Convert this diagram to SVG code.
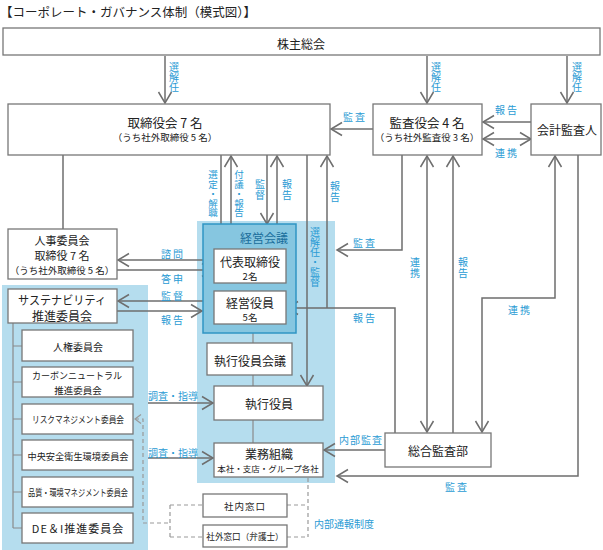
<svg xmlns="http://www.w3.org/2000/svg" width="603" height="550" viewBox="0 0 603 550">
<defs>
<style>
text{font-family:"Noto Sans CJK JP","Noto Sans CJK SC",sans-serif;dominant-baseline:central}
.n{fill:#222;text-anchor:middle;font-size:12px}
.s{font-size:9.5px}
.l{fill:#2a9bd4;font-size:10px;text-anchor:middle;letter-spacing:2px}
.v{fill:#2a9bd4;font-size:10px;writing-mode:vertical-rl;text-orientation:upright;text-anchor:start}
.b{fill:#fff;stroke:#777;stroke-width:1.3}
.c{fill:none;stroke:#6e6e6e;stroke-width:1.5}
.t{fill:none;stroke:#8a8a8a;stroke-width:1.2}
.d{fill:none;stroke:#999;stroke-width:1.2;stroke-dasharray:4 3}
.a{marker-end:url(#ah)}
.aa{marker-end:url(#ah);marker-start:url(#ah)}
</style>
<marker id="ah" viewBox="-12 -8 14 16" refX="0" refY="0" markerWidth="14" markerHeight="16" markerUnits="userSpaceOnUse" orient="auto-start-reverse">
<path d="M-11,-6.5 L0,0 L-11,6.5" fill="none" stroke="#6e6e6e" stroke-width="1.5"/>
</marker>
<marker id="ahs" viewBox="-8 -6 10 12" refX="0" refY="0" markerWidth="10" markerHeight="12" markerUnits="userSpaceOnUse" orient="auto-start-reverse">
<path d="M-6,-4.5 L0,0 L-6,4.5" fill="none" stroke="#999" stroke-width="1.2"/>
</marker>
</defs>
<rect width="603" height="550" fill="#fff"/>
<text x="0" y="11" style="font-size:12.5px;fill:#222">【コーポレート・ガバナンス体制（模式図）】</text>

<rect id="region-exec" x="197" y="221" width="138" height="262" fill="#b5ddee"/>
<rect id="region-sustain" x="2" y="285" width="146" height="265" fill="#b5ddee"/>

<g id="connectors">
<path class="c a" d="M165,56V103"/>
<path class="c a" d="M427,56V103"/>
<path class="c a" d="M567,56V103"/>
<path class="c a" d="M373,129H331"/>
<path class="c a" d="M531,122H483"/>
<path class="c aa" d="M483,139H531"/>
<path class="c" d="M63,155V229"/>
<path class="c a" d="M221,155V249"/>
<path class="c a" d="M231,249V156"/>
<path class="c a" d="M267,155V224"/>
<path class="c a" d="M277,224V156"/>
<path class="c a" d="M307,155V386"/>
<path class="c a" d="M395,433V308H287"/>
<path class="c a" d="M327,308V156"/>
<path class="c a" d="M402,155V250H337"/>
<path class="c aa" d="M427,156V432"/>
<path class="c a" d="M453,433V156"/>
<path class="c aa" d="M555,156V298H482V432"/>
<path class="c a" d="M578,155V476H337"/>
<path class="c a" d="M385,450H324"/>
<path class="c a" d="M214,260H118"/>
<path class="c a" d="M117,270H213"/>
<path class="c a" d="M203,301H118"/>
<path class="c a" d="M117,311H202"/>
<path class="c a" d="M148,403H213"/>
<path class="c a" d="M148,458H213"/>
<path class="t" d="M13,323V528M13,346H22M13,382H22M13,419H22M13,455H22M13,492H22M13,528H22"/>
<path class="t" stroke="#999" d="M253,283V443"/>
<path class="d" style="marker-start:url(#ahs)" d="M135,419H143V523H170"/>
<path class="d" d="M170,505V537M170,505H203M170,537H203M287,505H308M287,537H308M308,478V537"/>
<text class="v" x="174" y="62">選解任</text>
<text class="v" x="436" y="62">選解任</text>
<text class="v" x="577" y="62">選解任</text>
<text class="l" x="355" y="116">監査</text>
<text class="l" x="507" y="109">報告</text>
<text class="l" x="507" y="152">連携</text>
<text class="v" x="213" y="170" style="font-size:9.5px">選定・解職</text>
<text class="v" x="239" y="170" style="font-size:9.5px">付議・報告</text>
<text class="v" x="260" y="179" style="letter-spacing:1px">監督</text>
<text class="v" x="287" y="179" style="letter-spacing:1px">報告</text>
<text class="v" x="335" y="181" style="letter-spacing:1px">報告</text>
<text class="v" x="315" y="227">選解任・監督</text>
<text class="l" x="365" y="242">監査</text>
<text class="l" x="365" y="317">報告</text>
<text class="v" x="415" y="257" style="letter-spacing:1px">連携</text>
<text class="v" x="463" y="257" style="letter-spacing:1px">報告</text>
<text class="l" x="520" y="309">連携</text>
<text class="l" x="457" y="486">監査</text>
<text class="l" x="361" y="439" style="letter-spacing:1px">内部監査</text>
<text class="l" x="173" y="253">諮問</text>
<text class="l" x="173" y="278">答申</text>
<text class="l" x="173" y="295">監督</text>
<text class="l" x="173" y="319">報告</text>
<text class="l" x="173" y="395" style="letter-spacing:0">調査・指導</text>
<text class="l" x="173" y="452" style="letter-spacing:0">調査・指導</text>
<text class="l" x="344" y="523" style="letter-spacing:0">内部通報制度</text>
</g>

<g id="shareholders"><rect class="b" x="3" y="28" width="597" height="27"/><text class="n" x="301" y="43">株主総会</text></g>
<g id="board"><rect class="b" x="8" y="104" width="322" height="51"/><text class="n" x="165" y="122" style="font-size:12.5px">取締役会 7 名</text><text class="n s" x="165" y="137">（うち社外取締役 5 名）</text></g>
<g id="auditors"><rect class="b" x="373" y="104" width="109" height="51"/><text class="n" x="427" y="122" style="font-size:12.5px">監査役会 4 名</text><text class="n s" x="427" y="137">（うち社外監査役 3 名）</text></g>
<g id="accounting-auditor"><rect class="b" x="531" y="104" width="70" height="51"/><text class="n" x="567" y="129">会計監査人</text></g>
<g id="hr-committee"><rect class="b" x="8" y="229" width="109" height="50"/><text class="n" x="62" y="240" style="font-size:11px">人事委員会</text><text class="n" x="62" y="255" style="font-size:11px">取締役 7 名</text><text class="n s" x="62" y="270">（うち社外取締役 5 名）</text></g>
<g id="sustainability"><rect class="b" x="8" y="289" width="109" height="34"/><text class="n" x="62" y="299" textLength="88" lengthAdjust="spacingAndGlyphs">サステナビリティ</text><text class="n" x="62" y="315">推進委員会</text></g>
<g id="human-rights"><rect class="b" x="22" y="330" width="111" height="31"/><text class="n" x="78" y="346" style="font-size:10px">人権委員会</text></g>
<g id="carbon"><rect class="b" x="22" y="367" width="111" height="30"/><text class="n" x="77" y="375" style="font-size:9.5px" textLength="90" lengthAdjust="spacingAndGlyphs">カーボンニュートラル</text><text class="n" x="78" y="390" style="font-size:9.5px">推進委員会</text></g>
<g id="risk"><rect class="b" x="22" y="404" width="111" height="30"/><text class="n" x="78" y="419" style="font-size:9.5px" textLength="92" lengthAdjust="spacingAndGlyphs">リスクマネジメント委員会</text></g>
<g id="safety"><rect class="b" x="22" y="440" width="111" height="30"/><text class="n" x="78" y="456" style="font-size:9.2px">中央安全衛生環境委員会</text></g>
<g id="quality"><rect class="b" x="22" y="477" width="111" height="30"/><text class="n" x="78" y="492" style="font-size:9.5px" textLength="100" lengthAdjust="spacingAndGlyphs">品質・環境マネジメント委員会</text></g>
<g id="dei"><rect class="b" x="22" y="513" width="111" height="30"/><text class="n" x="78" y="528" style="font-size:11px;letter-spacing:1px">DE＆I推進委員会</text></g>
<g id="management-council"><rect x="203" y="224" width="93" height="109" fill="#86c6e0" stroke="#2f95c4" stroke-width="1.5"/><text x="264" y="237" style="font-size:12px;fill:#1a6e9c;text-anchor:middle">経営会議</text></g>
<g id="representative"><rect class="b" x="214" y="249" width="72" height="34"/><text class="n" x="250" y="261">代表取締役</text><text class="n s" x="250" y="276">2名</text></g>
<g id="management-officers"><rect class="b" x="214" y="291" width="72" height="33"/><text class="n" x="250" y="302">経営役員</text><text class="n s" x="250" y="317">5名</text></g>
<g id="exec-council"><rect class="b" x="207" y="343" width="85" height="32"/><text class="n" x="250" y="360">執行役員会議</text></g>
<g id="exec-officers"><rect class="b" x="214" y="386" width="109" height="34"/><text class="n" x="269" y="403">執行役員</text></g>
<g id="operations"><rect class="b" x="214" y="443" width="109" height="34"/><text class="n" x="269" y="453">業務組織</text><text class="n" x="268" y="468" style="font-size:8.5px">本社・支店・グループ各社</text></g>
<g id="internal-audit"><rect class="b" x="385" y="433" width="106" height="34"/><text class="n" x="438" y="450">総合監査部</text></g>
<g id="internal-desk"><rect class="b" x="203" y="494" width="84" height="23"/><text class="n" x="245" y="506" style="font-size:9.5px;letter-spacing:1px">社内窓口</text></g>
<g id="external-desk"><rect class="b" x="203" y="525" width="84" height="22"/><text class="n" x="245" y="536" style="font-size:8.6px">社外窓口（弁護士）</text></g>
</svg>
